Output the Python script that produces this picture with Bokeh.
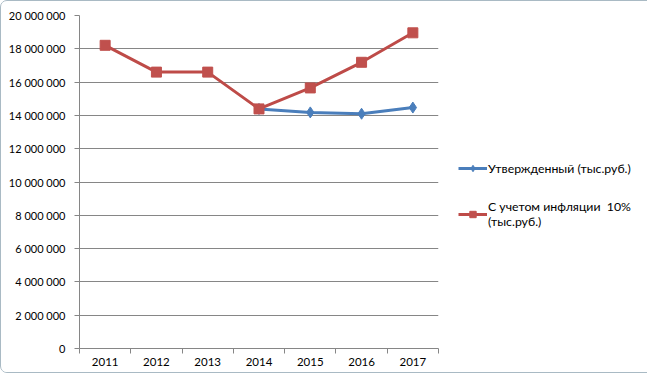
from bokeh.plotting import figure
from bokeh.models import FixedTicker, Legend, LegendItem, Range1d
from bokeh.embed import file_html
from bokeh.resources import INLINE
import numpy as np

years = ["2011", "2012", "2013", "2014", "2015", "2016", "2017"]
approved = [np.nan, np.nan, np.nan, 14390000, 14180000, 14100000, 14470000]
inflation = [18210000, 16600000, 16600000, 14390000, 15650000, 17190000, 18960000]
y_ticks = list(range(0, 20000001, 2000000))
label_approved = "Утвержденный (тыс.руб.)"
label_inflation = "С учетом инфляции  10%\n(тыс.руб.)"

FONT = "Lato"
GRID = "#868686"
BLUE = "#4A7EBB"
RED = "#BE4B48"

x = np.arange(len(years)) + 0.5

p = figure(frame_width=359, frame_height=333, output_backend="svg", toolbar_location=None,
           x_range=Range1d(0, len(years)), y_range=Range1d(0, 20000000),
           min_border_left=78, min_border_right=192, min_border_top=14, min_border_bottom=24)
p.outline_line_color = None
p.background_fill_color = "white"
p.border_fill_color = "white"
p.styles = {"border": "1px solid #A9BAC4", "border-radius": "7px", "overflow": "hidden"}

# y axis
p.yaxis.ticker = FixedTicker(ticks=y_ticks)
p.yaxis.major_label_overrides = {t: f"{t:,}".replace(",", " ") for t in y_ticks}
p.yaxis.axis_line_color = GRID
p.yaxis.major_tick_line_color = GRID
p.yaxis.major_tick_in = 0
p.yaxis.major_tick_out = 5
p.yaxis.minor_tick_line_color = None
p.yaxis.major_label_standoff = 9
p.yaxis.major_label_text_font = FONT
p.yaxis.major_label_text_font_size = "11px"
p.yaxis.major_label_text_color = "black"

# x axis: labels at band centres, ticks at band boundaries
p.xaxis.ticker = FixedTicker(ticks=list(x), minor_ticks=list(range(len(years) + 1)))
p.xaxis.major_label_overrides = {float(v): y for v, y in zip(x, years)}
p.xaxis.axis_line_color = GRID
p.xaxis.major_tick_line_color = None
p.xaxis.minor_tick_line_color = GRID
p.xaxis.minor_tick_in = 0
p.xaxis.minor_tick_out = 5
p.xaxis.major_tick_out = 5
p.xaxis.major_label_standoff = 4
p.xaxis.major_label_text_font = FONT
p.xaxis.major_label_text_font_size = "11.5px"
p.xaxis.major_label_text_color = "black"

p.xgrid.grid_line_color = None
p.ygrid.grid_line_color = GRID
p.ygrid.grid_line_width = 1

# series
l1 = p.line(x, approved, line_color=BLUE, line_width=3)
m1 = p.scatter(x, approved, marker="diamond", size=11, fill_color=BLUE, line_color=BLUE)
l2 = p.line(x, inflation, line_color=RED, line_width=3)
m2 = p.scatter(x, inflation, marker="square", size=10, fill_color="#C0504D", line_color="#C0504D")

legend = Legend(items=[LegendItem(label=label_approved, renderers=[l1, m1]),
                       LegendItem(label=label_inflation, renderers=[l2, m2])],
                location=(20, 119), glyph_width=29, glyph_height=16, label_height=15,
                label_standoff=1, spacing=23, padding=0, margin=0,
                border_line_color=None, background_fill_alpha=0,
                label_text_line_height=1.1,
                label_text_font=FONT, label_text_font_size="12.3px", label_text_color="black")
p.add_layout(legend, "right")

open("out.html", "w").write(file_html(p, INLINE))
